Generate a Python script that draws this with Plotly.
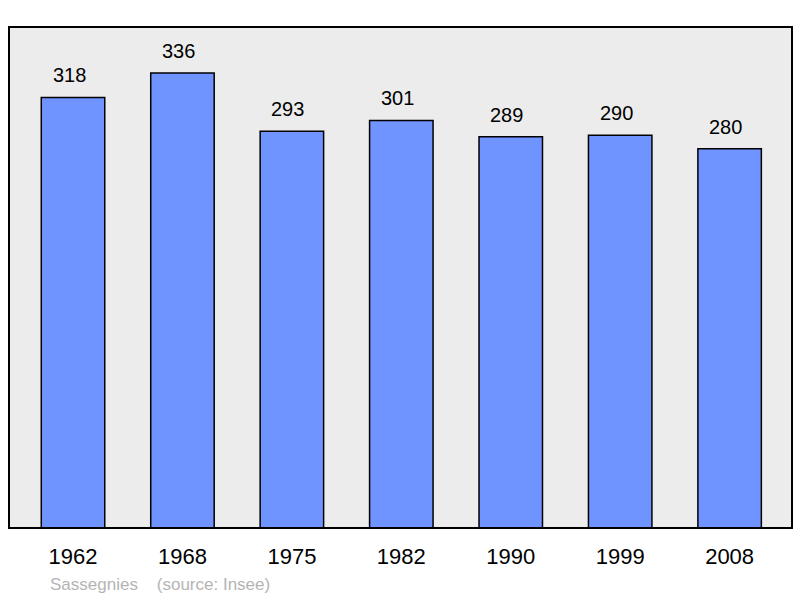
import plotly.graph_objects as go

years = ["1962", "1968", "1975", "1982", "1990", "1999", "2008"]
population = [318, 336, 293, 301, 289, 290, 280]
footer_text = "Sassegnies    (source: Insee)"

FONT = "Liberation Sans, Arial, sans-serif"

fig = go.Figure()
fig.add_trace(go.Bar(
    x=years, y=population,
    marker=dict(color="#7094ff", line=dict(color="#000000", width=1.5)),
    width=0.58,
    hoverinfo="skip",
))

# category axis: numeric-looking strings are read as indices, so use the index
for i, v in enumerate(population):
    fig.add_annotation(x=i, y=v, xref="x", yref="y", text=str(v), showarrow=False,
                       yanchor="bottom", yshift=9, xshift=-4,
                       font=dict(family=FONT, size=20, color="#000"))

fig.add_annotation(xref="paper", yref="paper", x=(48 - 9) / 783, y=(528 - 584) / 501,
                   xanchor="left", yanchor="middle", showarrow=False, text=footer_text,
                   font=dict(family=FONT, size=17, color="#b4b4b4"))

fig.add_shape(type="rect", xref="paper", yref="paper", x0=0, x1=1, y0=0, y1=1,
              line=dict(color="#000000", width=2), layer="above")

fig.update_layout(
    width=800, height=598,
    margin=dict(l=9, r=8, t=27, b=70),
    paper_bgcolor="#ffffff", plot_bgcolor="#ececec",
    showlegend=False,
    xaxis=dict(type="category", range=[-0.585, 6.57], showgrid=False, zeroline=False,
               ticks="outside", ticklen=9, tickcolor="rgba(0,0,0,0)",
               tickfont=dict(family=FONT, size=22, color="#000")),
    yaxis=dict(range=[0, 370], showgrid=False, zeroline=False, showticklabels=False),
)

fig.write_html("out.html", config={"displayModeBar": False},
               post_script="document.body.style.margin='0';")
